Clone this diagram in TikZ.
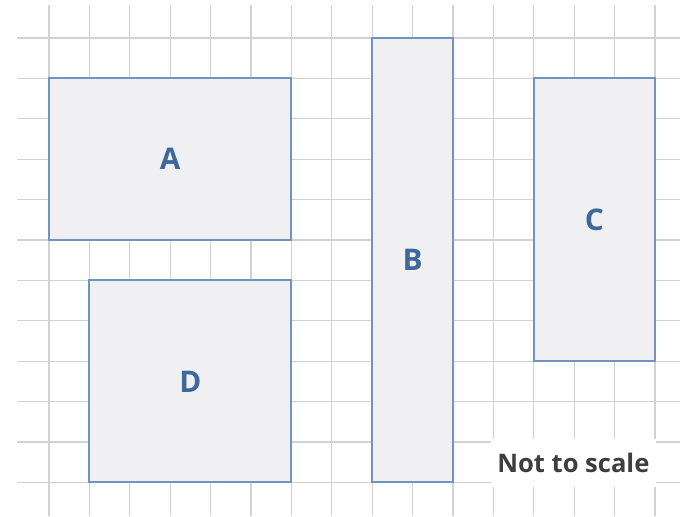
\documentclass[tikz,border=0pt]{standalone}
\usepackage{fontspec}
\setmainfont{Open Sans}
\usepackage{xcolor}
\usepackage{tikz}
\usetikzlibrary{positioning}
\definecolor{gridgray}{RGB}{210,210,214}
\definecolor{boxblue}{RGB}{112,148,192}
\definecolor{boxfill}{RGB}{240,240,243}
\definecolor{labelblue}{RGB}{62,104,156}
\definecolor{notegray}{RGB}{62,62,66}

\begin{document}
\begin{tikzpicture}[
    block/.style={draw=boxblue, line width=1.4pt, fill=boxfill, inner sep=0pt,
        text=labelblue, font=\fontsize{21}{24}\selectfont\bfseries},
    note/.style={fill=white, inner sep=0pt, minimum width=4.1cm, minimum height=1.2cm,
        text=notegray, font=\fontsize{18}{21}\selectfont\bfseries}
]
        \useasboundingbox (-1.213,-0.832) rectangle (15.619,11.941);

        % Grid
        \foreach \x in {0,...,15}
            \draw[gridgray, line width=0.9pt] (\x,-0.832) -- (\x,11.82);
        \foreach \y in {0,...,11}
            \draw[gridgray, line width=0.9pt] (-0.79,\y) -- (15.619,\y);

        % Rectangles
        \node[block, minimum width=6cm, minimum height=4cm] (A) at (3,8) {A};
        \node[block, minimum width=2cm, minimum height=11cm] (B) at (9,5.5) {B};
        \node[block, minimum width=3cm, minimum height=7cm] (C) at (13.5,6.5) {C};
        \node[block, minimum width=5cm, minimum height=5cm] (D) at (3.5,2.5) {D};

        % Note
        \node[note] (scale) at (12.98,0.48) {Not to scale};
    \end{tikzpicture}
\end{document}
